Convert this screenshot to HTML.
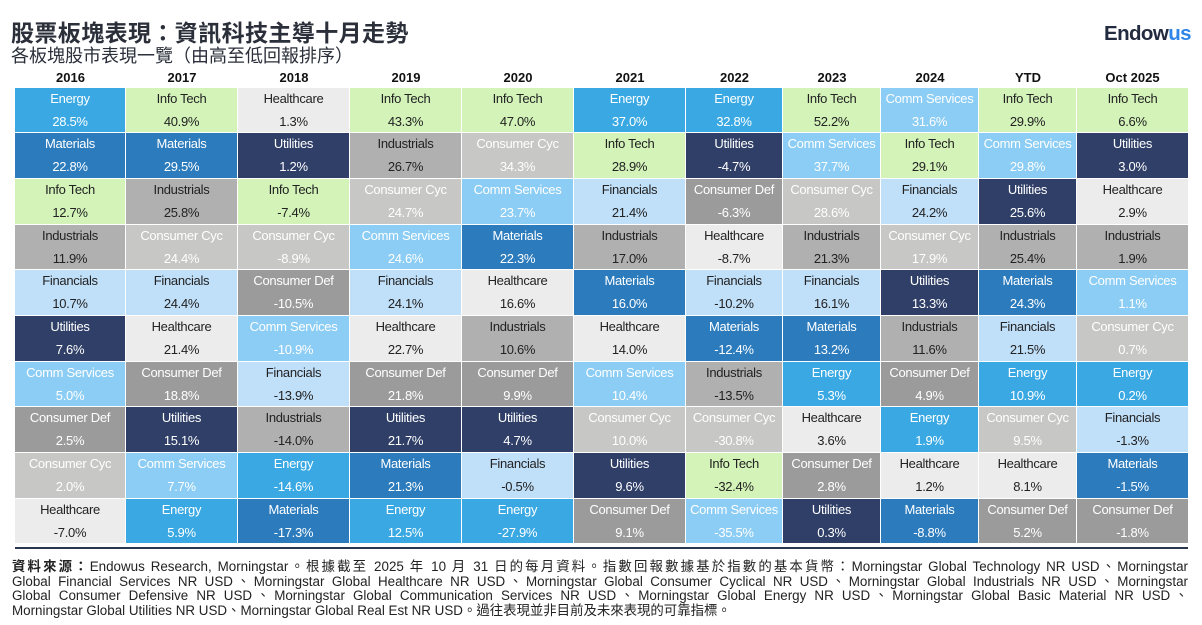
<!DOCTYPE html>
<html><head><meta charset="utf-8">
<style>
body{margin:0;width:1202px;height:625px;background:#fff;position:relative;overflow:hidden;font-family:"Liberation Sans","Noto Sans CJK TC",sans-serif;color:#222}
#title{position:absolute;left:11px;top:14px;font-size:23px;font-weight:bold;color:#2a2f3a;letter-spacing:0.4px}
#sub{position:absolute;left:11px;top:42px;font-size:18px;color:#2a2f3a}
#logo{position:absolute;left:1104px;top:22px;font-size:20.5px;font-weight:bold;color:#222b3f;letter-spacing:-0.6px}
#logo span{color:#2f86e8}
.hd{position:absolute;top:70px;font-size:13px;font-weight:bold;text-align:center;color:#111}
.cell{position:absolute;box-sizing:border-box;border-right:1.5px solid #fff;border-bottom:1.5px solid #fff;text-align:center;font-size:13px;letter-spacing:-0.3px}
.cell .n{position:absolute;left:0;right:0;top:3px}
.cell .v{position:absolute;left:0;right:0;top:26px}
#rule{position:absolute;left:15px;top:547px;width:1173px;height:2px;background:#2a3550}
#foot{position:absolute;left:12px;top:560px;width:1176px;font-size:13.4px;line-height:14.6px;color:#222}
#foot div{text-align:justify;text-align-last:justify;white-space:nowrap}
#foot div.last{text-align-last:left}
</style></head><body>
<div id="title">股票板塊表現：資訊科技主導十月走勢</div>
<div id="sub">各板塊股市表現一覽（由高至低回報排序）</div>
<div id="logo">Endow<span>us</span></div>
<div id="grid"></div>
<div id="rule"></div>
<div id="foot">
<div><b>資料來源：</b>Endowus Research, Morningstar。根據截至 2025 年 10 月 31 日的每月資料。指數回報數據基於指數的基本貨幣：Morningstar Global Technology NR USD、Morningstar</div>
<div>Global Financial Services NR USD、Morningstar Global Healthcare NR USD、Morningstar Global Consumer Cyclical NR USD、Morningstar Global Industrials NR USD、Morningstar</div>
<div>Global Consumer Defensive NR USD、Morningstar Global Communication Services NR USD、Morningstar Global Energy NR USD、Morningstar Global Basic Material NR USD、</div>
<div class="last">Morningstar Global Utilities NR USD、Morningstar Global Real Est NR USD。過往表現並非目前及未來表現的可靠指標。</div>
</div>
<script>
const periods=["2016","2017","2018","2019","2020","2021","2022","2023","2024","YTD","Oct 2025"];
const sectors2016=["Energy","Materials","Info Tech","Industrials","Financials","Utilities","Comm Services","Consumer Def","Consumer Cyc","Healthcare"];
const values2016=[28.5,22.8,12.7,11.9,10.7,7.6,5.0,2.5,2.0,-7.0];
const sectors2017=["Info Tech","Materials","Industrials","Consumer Cyc","Financials","Healthcare","Consumer Def","Utilities","Comm Services","Energy"];
const values2017=[40.9,29.5,25.8,24.4,24.4,21.4,18.8,15.1,7.7,5.9];
const sectors2018=["Healthcare","Utilities","Info Tech","Consumer Cyc","Consumer Def","Comm Services","Financials","Industrials","Energy","Materials"];
const values2018=[1.3,1.2,-7.4,-8.9,-10.5,-10.9,-13.9,-14.0,-14.6,-17.3];
const sectors2019=["Info Tech","Industrials","Consumer Cyc","Comm Services","Financials","Healthcare","Consumer Def","Utilities","Materials","Energy"];
const values2019=[43.3,26.7,24.7,24.6,24.1,22.7,21.8,21.7,21.3,12.5];
const sectors2020=["Info Tech","Consumer Cyc","Comm Services","Materials","Healthcare","Industrials","Consumer Def","Utilities","Financials","Energy"];
const values2020=[47.0,34.3,23.7,22.3,16.6,10.6,9.9,4.7,-0.5,-27.9];
const sectors2021=["Energy","Info Tech","Financials","Industrials","Materials","Healthcare","Comm Services","Consumer Cyc","Utilities","Consumer Def"];
const values2021=[37.0,28.9,21.4,17.0,16.0,14.0,10.4,10.0,9.6,9.1];
const sectors2022=["Energy","Utilities","Consumer Def","Healthcare","Financials","Materials","Industrials","Consumer Cyc","Info Tech","Comm Services"];
const values2022=[32.8,-4.7,-6.3,-8.7,-10.2,-12.4,-13.5,-30.8,-32.4,-35.5];
const sectors2023=["Info Tech","Comm Services","Consumer Cyc","Industrials","Financials","Materials","Energy","Healthcare","Consumer Def","Utilities"];
const values2023=[52.2,37.7,28.6,21.3,16.1,13.2,5.3,3.6,2.8,0.3];
const sectors2024=["Comm Services","Info Tech","Financials","Consumer Cyc","Utilities","Industrials","Consumer Def","Energy","Healthcare","Materials"];
const values2024=[31.6,29.1,24.2,17.9,13.3,11.6,4.9,1.9,1.2,-8.8];
const sectorsYTD=["Info Tech","Comm Services","Utilities","Industrials","Materials","Financials","Energy","Consumer Cyc","Healthcare","Consumer Def"];
const valuesYTD=[29.9,29.8,25.6,25.4,24.3,21.5,10.9,9.5,8.1,5.2];
const sectorsOct=["Info Tech","Utilities","Healthcare","Industrials","Comm Services","Consumer Cyc","Energy","Financials","Materials","Consumer Def"];
const valuesOct=[6.6,3.0,2.9,1.9,1.1,0.7,0.2,-1.3,-1.5,-1.8];

const allSectors=[sectors2016,sectors2017,sectors2018,sectors2019,sectors2020,sectors2021,sectors2022,sectors2023,sectors2024,sectorsYTD,sectorsOct];
const allValues=[values2016,values2017,values2018,values2019,values2020,values2021,values2022,values2023,values2024,valuesYTD,valuesOct];
const colX=[15,126,238,350,462,574,686,783,881,979,1077,1188];
const top0=87.5,rowH=45.7;
const style={
 "Energy":["#3aa9e3","#fff"],"Info Tech":["#d3f3b9","#222"],"Healthcare":["#ececec","#222"],
 "Materials":["#2b7bbd","#fff"],"Utilities":["#2f3f67","#fff"],"Industrials":["#b1b0b0","#222"],
 "Consumer Cyc":["#c7c7c6","#fff"],"Comm Services":["#8ccdf5","#fff"],"Financials":["#c0dff9","#222"],
 "Consumer Def":["#9b9b9b","#fff"]};
const body=document.body;
periods.forEach((p,c)=>{
 const h=document.createElement('div');
 h.className='hd';
 
 
 h.style.left=colX[c]+'px';h.style.width=(colX[c+1]-colX[c])+'px';
 h.textContent=p;body.appendChild(h);
 allSectors[c].forEach((s,r)=>{
  const d=document.createElement('div');
  d.className='cell';
  
  
  d.style.left=colX[c]+'px';d.style.width=(colX[c+1]-colX[c])+'px';
  d.style.top=(top0+r*rowH)+'px';d.style.height=rowH+'px';
  d.style.background=style[s][0];d.style.color=style[s][1];
  if(c===colX.length-2)d.style.borderRight='none';
  d.innerHTML='<div class="n"></div><div class="v"></div>';
  d.children[0].textContent=s;
  d.children[1].textContent=allValues[c][r].toFixed(1)+'%';
  body.appendChild(d);
 });
});
</script>
</body></html>
